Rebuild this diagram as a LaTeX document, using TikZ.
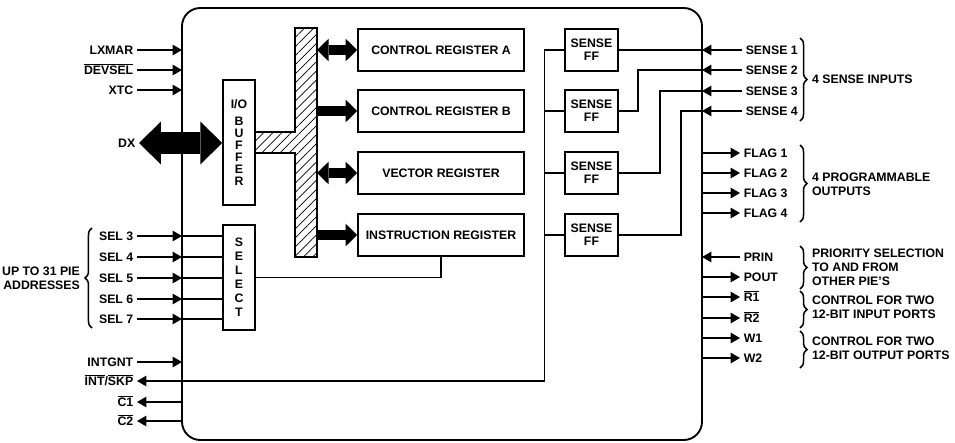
\documentclass[tikz,border=0pt]{standalone}
\usepackage{fontspec}
\setmainfont{Liberation Sans}
\usetikzlibrary{arrows.meta, patterns.meta, decorations.pathreplacing}
\newcommand{\schrift}{\bfseries\fontsize{10.5}{12}\selectfont}
\newcommand{\negiert}[1]{$\overline{\mbox{#1}}$}

\begin{document}
\begin{tikzpicture}
	[
	x=0.03cm, y=-0.03cm, font=\schrift, >={Triangle[length=8pt, width=9pt]},
	%Vorlagen
	kasten/.style={draw, line width=1.3pt, inner sep=0pt, align=center},
	register/.style={kasten, minimum width=4.98cm, minimum height=1.26cm},
	ff/.style={kasten, minimum width=1.59cm, minimum height=1.26cm, font=\bfseries\fontsize{10.5}{11}\selectfont},
	leitung/.style={line width=1pt},
	signal/.style={inner xsep=3pt, inner ysep=0pt, text height=7.5pt, text depth=0pt},
	doppel/.style={line width=8.5pt, arrows={Triangle[length=10pt, width=19.5pt, line width=0pt]-Triangle[length=10pt, width=19.5pt, line width=0pt]}},
	einfach/.style={line width=8.5pt, arrows={-Triangle[length=10pt, width=19.5pt, line width=0pt]}},
	klammer/.style={decorate, decoration={brace, amplitude=6pt}, line width=1.3pt}
	]
	\useasboundingbox (0,0) rectangle (955,442);
	%Gehaeuse
	\node[draw, line width=1.6pt, rounded corners=0.55cm, minimum width=15.6cm, minimum height=12.96cm, outer sep=0pt] (pie) at (442,224) {};

	%Register
	\node[register] (rega) at (441,50) {CONTROL REGISTER A};
	\node[register] (regb) at (441,111) {CONTROL REGISTER B};
	\node[register] (vreg) at (441,173) {VECTOR REGISTER};
	\node[register] (ireg) at (441,235) {INSTRUCTION REGISTER};

	%Puffer und Auswahl
	\node[kasten, minimum width=0.96cm, minimum height=3.75cm, font=\bfseries\fontsize{10.5}{10.2}\selectfont] (io) at (239,142.5) {I/O\\[5pt]B\\U\\F\\F\\E\\R};
	\node[kasten, minimum width=0.96cm, minimum height=3.15cm, font=\bfseries\fontsize{10.5}{11.9}\selectfont] (sel) at (239,277.5) {S\\E\\L\\E\\C\\T};

	%Bus
	\draw[line width=1.3pt, pattern={Lines[angle=45, distance=5.5pt, line width=0.6pt]}] (295,28) -- (317,28) -- (317,257) -- (295,257) -- (295,153) -- (255,153) -- (255,132) -- (295,132) -- cycle;
	\coordinate (busr) at (317,0);
	\draw[doppel] (rega.west -| busr) -- (rega.west);
	\draw[einfach] (regb.west -| busr) -- (regb.west);
	\draw[doppel] (vreg.west -| busr) -- (vreg.west);
	\draw[einfach] (ireg.west -| busr) -- (ireg.west);
	\draw[leitung] (sel.east) -| (ireg.south);

	%DX
	\node[signal, anchor=east] (dx) at (139,143) {DX};
	\draw[line width=19.6pt, arrows={Triangle[length=18.7pt, width=36.6pt, line width=0pt]-Triangle[length=18.7pt, width=36.6pt, line width=0pt]}] (dx.east) -- (dx.east -| io.west);

	%Signale links
	\node[signal, anchor=east] (lxmar) at (137,50) {LXMAR};
	\node[signal, anchor=east] (devsel) at (137,70) {\negiert{DEVSEL}};
	\node[signal, anchor=east] (xtc) at (137,90) {XTC};
	\draw[leitung, ->] (lxmar) -- (lxmar -| pie.west);
	\draw[leitung, ->] (devsel) -- (devsel -| pie.west);
	\draw[leitung, ->] (xtc) -- (xtc -| pie.west);

	\node[signal, anchor=east] (sel3) at (137,236) {SEL 3};
	\node[signal, anchor=east] (sel4) at (137,257) {SEL 4};
	\node[signal, anchor=east] (sel5) at (137,278) {SEL 5};
	\node[signal, anchor=east] (sel6) at (137,299) {SEL 6};
	\node[signal, anchor=east] (sel7) at (137,319) {SEL 7};
	\draw[leitung, ->] (sel3) -- (sel3 -| pie.west);
	\draw[leitung, ->] (sel4) -- (sel4 -| pie.west);
	\draw[leitung, ->] (sel5) -- (sel5 -| pie.west);
	\draw[leitung, ->] (sel6) -- (sel6 -| pie.west);
	\draw[leitung, ->] (sel7) -- (sel7 -| pie.west);
	\draw[leitung] (sel3 -| pie.west) -- (sel3 -| sel.west);
	\draw[leitung] (sel4 -| pie.west) -- (sel4 -| sel.west);
	\draw[leitung] (sel5 -| pie.west) -- (sel5 -| sel.west);
	\draw[leitung] (sel6 -| pie.west) -- (sel6 -| sel.west);
	\draw[leitung] (sel7 -| pie.west) -- (sel7 -| sel.west);
	\draw[klammer] (92,328) -- (92,228);
	\node[anchor=east, align=right] (adr) at (84,278) {UP TO 31 PIE\\ADDRESSES};

	\node[signal, anchor=east] (intgnt) at (137,362) {INTGNT};
	\node[signal, anchor=east] (intskp) at (137,381) {\negiert{INT}/\negiert{SKP}};
	\node[signal, anchor=east] (c1) at (137,402) {\negiert{C1}};
	\node[signal, anchor=east] (c2) at (137,421) {\negiert{C2}};
	\draw[leitung, ->] (intgnt) -- (intgnt -| pie.west);
	\draw[leitung, ->] (c1 -| pie.west) -- (c1);
	\draw[leitung, ->] (c2 -| pie.west) -- (c2);

	%Sense-Flipflops
	\node[ff] (ff1) at (591.5,50) {SENSE\\FF};
	\node[ff] (ff2) at (591.5,111) {SENSE\\FF};
	\node[ff] (ff3) at (591.5,173) {SENSE\\FF};
	\node[ff] (ff4) at (591.5,235) {SENSE\\FF};
	\draw[leitung, ->] (ff1.west) -- ++(-20,0) |- (intskp);
	\draw[leitung] (ff2.west) -- ++(-20,0);
	\draw[leitung] (ff3.west) -- ++(-20,0);
	\draw[leitung] (ff4.west) -- ++(-20,0);

	%Signale rechts
	\node[signal, anchor=west] (sense1) at (742,50) {SENSE 1};
	\node[signal, anchor=west] (sense2) at (742,70) {SENSE 2};
	\node[signal, anchor=west] (sense3) at (742,91) {SENSE 3};
	\node[signal, anchor=west] (sense4) at (742,111) {SENSE 4};
	\draw[leitung, ->] (sense1) -- (sense1 -| pie.east);
	\draw[leitung, ->] (sense2) -- (sense2 -| pie.east);
	\draw[leitung, ->] (sense3) -- (sense3 -| pie.east);
	\draw[leitung, ->] (sense4) -- (sense4 -| pie.east);
	\draw[leitung] (sense1 -| pie.east) -- (ff1.east);
	\draw[leitung] (sense2 -| pie.east) -- ++(-64,0) |- (ff2.east);
	\draw[leitung] (sense3 -| pie.east) -- ++(-42,0) |- (ff3.east);
	\draw[leitung] (sense4 -| pie.east) -- ++(-21,0) |- (ff4.east);
	\draw[klammer] (800,38) -- (800,121);
	\node[anchor=west] (sensetxt) at (808,79) {4 SENSE INPUTS};

	\node[signal, anchor=west] (flag1) at (740,153) {FLAG 1};
	\node[signal, anchor=west] (flag2) at (740,173) {FLAG 2};
	\node[signal, anchor=west] (flag3) at (740,193) {FLAG 3};
	\node[signal, anchor=west] (flag4) at (740,213) {FLAG 4};
	\draw[leitung, ->] (flag1 -| pie.east) -- (flag1);
	\draw[leitung, ->] (flag2 -| pie.east) -- (flag2);
	\draw[leitung, ->] (flag3 -| pie.east) -- (flag3);
	\draw[leitung, ->] (flag4 -| pie.east) -- (flag4);
	\draw[klammer] (800,145) -- (800,222);
	\node[anchor=west, align=left] (flagtxt) at (808,184) {4 PROGRAMMABLE\\OUTPUTS};

	\node[signal, anchor=west] (prin) at (740,257) {PRIN};
	\node[signal, anchor=west] (pout) at (740,277) {POUT};
	\node[signal, anchor=west] (r1) at (740,297) {\negiert{R1}};
	\node[signal, anchor=west] (r2) at (740,318) {\negiert{R2}};
	\node[signal, anchor=west] (w1) at (740,338) {W1};
	\node[signal, anchor=west] (w2) at (740,358) {W2};
	\draw[leitung, ->] (prin) -- (prin -| pie.east);
	\draw[leitung, ->] (pout -| pie.east) -- (pout);
	\draw[leitung, ->] (r1 -| pie.east) -- (r1);
	\draw[leitung, ->] (r2 -| pie.east) -- (r2);
	\draw[leitung, ->] (w1 -| pie.east) -- (w1);
	\draw[leitung, ->] (w2 -| pie.east) -- (w2);
	\draw[klammer] (800,246) -- (800,289);
	\node[anchor=west, align=left] (pritxt) at (808,267) {PRIORITY SELECTION\\TO AND FROM\\OTHER PIE'S};
	\draw[klammer] (800,291) -- (800,328);
	\node[anchor=west, align=left] (intxt) at (808,307) {CONTROL FOR TWO\\12-BIT INPUT PORTS};
	\draw[klammer] (800,331) -- (800,368);
	\node[anchor=west, align=left] (outtxt) at (808,348) {CONTROL FOR TWO\\12-BIT OUTPUT PORTS};
\end{tikzpicture}
\end{document}
